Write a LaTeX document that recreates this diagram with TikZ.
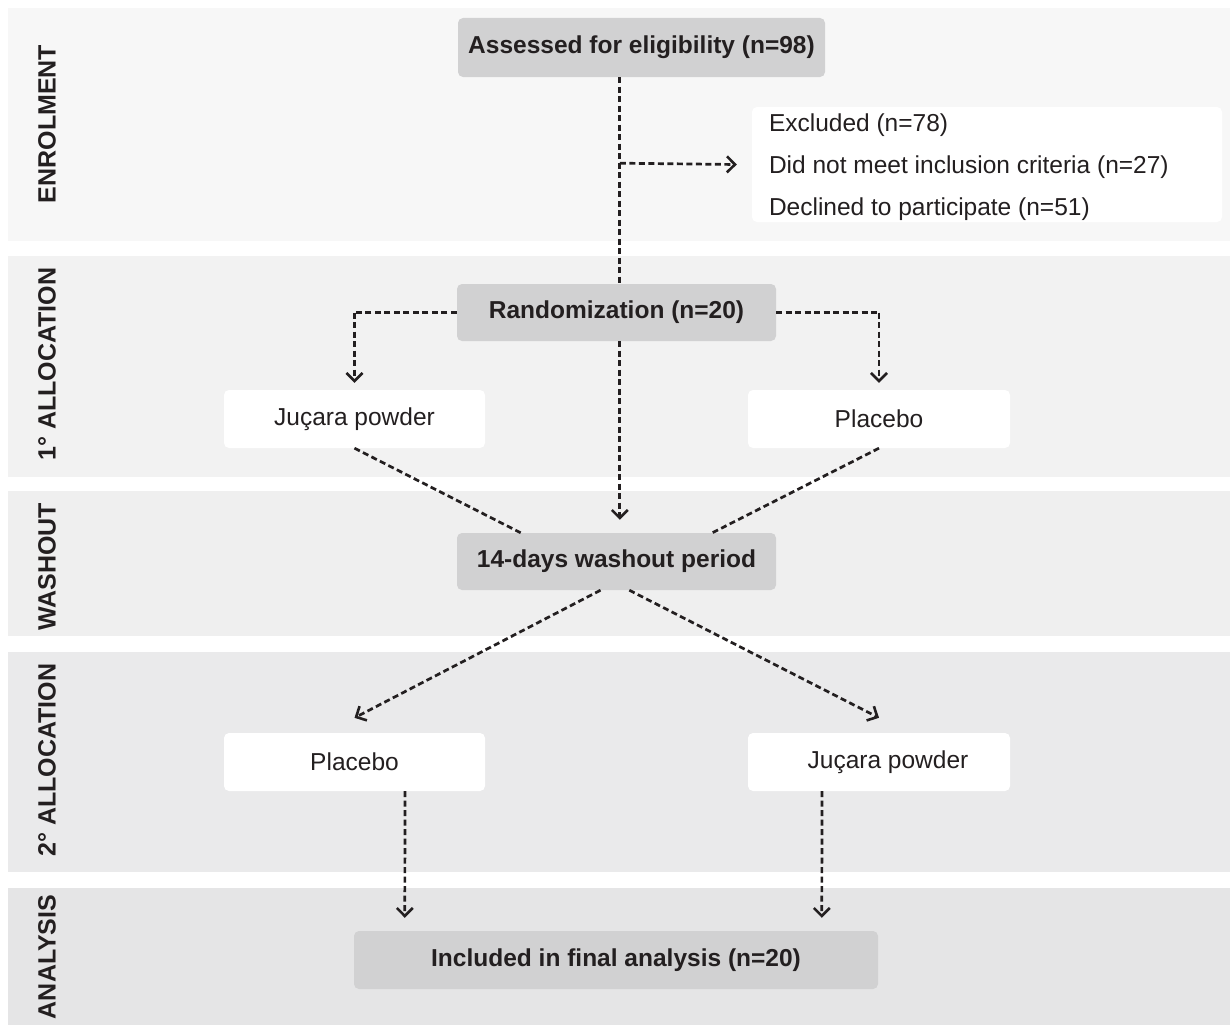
\documentclass[tikz,border=0pt]{standalone}
\usepackage{fontspec}
\setmainfont{Liberation Sans}
\usetikzlibrary{arrows.meta,calc}
\definecolor{bandA}{HTML}{F7F7F7}
\definecolor{bandB}{HTML}{F2F2F2}
\definecolor{bandC}{HTML}{EFEFEF}
\definecolor{bandD}{HTML}{EAEAEB}
\definecolor{bandE}{HTML}{E5E5E6}
\definecolor{nodegray}{HTML}{D1D1D2}
\definecolor{txt}{HTML}{231F20}
\newcommand{\fsz}{\fontsize{24.5}{42}\selectfont}
\begin{document}
\begin{tikzpicture}[x=1pt,y=-1pt,
  graybox/.style={fill=nodegray, rounded corners=5pt, minimum height=58pt, inner sep=0pt, font=\fsz\bfseries, text=txt},
  whitebox/.style={fill=white, rounded corners=5pt, minimum height=58pt, inner sep=0pt, font=\fsz, text=txt},
  band/.style={rotate=90, font=\fontsize{25}{29}\selectfont\bfseries, text=txt},
  conn/.style={draw=txt, line width=2.7pt, dash pattern=on 6pt off 3.5pt},
  arr/.style={conn, -{Straight Barb[length=8pt,width=16pt,line width=2.6pt]}}
]
\useasboundingbox (0,0) rectangle (1230,1025);
\fill[white] (0,0) rectangle (1230,1025);
% bands
\fill[bandA] (8,8) rectangle (1230,241);
\fill[bandB] (8,256) rectangle (1230,477);
\fill[bandC] (8,491) rectangle (1230,636);
\fill[bandD] (8,652) rectangle (1230,872);
\fill[bandE] (8,888) rectangle (1230,1025);
% band labels
\node[band] (lab1) at (47,124) {ENROLMENT};
\node[band] (lab2) at (47,364) {1° ALLOCATION};
\node[band] (lab3) at (47,567) {WASHOUT};
\node[band] (lab4) at (47,760) {2° ALLOCATION};
\node[band] (lab5) at (47,957) {ANALYSIS};
% nodes
\node[graybox, minimum width=367pt, minimum height=59pt] (assess) at (641.5,47.5) {Assessed for eligibility (n=98)};
\node[whitebox, minimum width=470pt, minimum height=115pt] (excl) at (987,164.5) {};
\node[font=\fsz, text=txt, align=left, anchor=west, inner sep=0pt] (excltext) at ($(excl.west)+(17,3)$)
  {Excluded (n=78)\\Did not meet inclusion criteria (n=27)\\Declined to participate (n=51)};
\node[graybox, minimum width=319pt, minimum height=57pt] (rand) at (616.5,312.5) {Randomization (n=20)};
\node[whitebox, minimum width=261pt] (jup1) at (354.5,419) {Juçara powder};
\node[whitebox, minimum width=262pt] (plac1) at (879,419) {Placebo};
\node[graybox, minimum width=319pt, minimum height=57pt] (wash) at (616.5,561.5) {14-days washout period};
\node[whitebox, minimum width=261pt] (plac2) at (354.5,762) {Placebo};
\node[whitebox, minimum width=262pt] (jup2) at (879,762) {\hspace*{18pt}Juçara powder};
\node[graybox, minimum width=524pt] (incl) at (616,960) {Included in final analysis (n=20)};
% helper coordinates
\coordinate (a1) at ($(assess.south west)+(162,0)$);
\coordinate (br) at ($(a1)+(0,86)$);
\coordinate (r0) at ($(rand.north west)+(163,0)$);
\coordinate (rb) at ($(rand.south west)+(163,0)$);
\coordinate (w0) at ($(wash.north west)+(163,-13)$);
\coordinate (lbend) at (jup1.north |- rand.west);
\coordinate (rbend) at (plac1.north |- rand.east);
% connectors
\draw[conn] (a1) -- (r0);
\draw[arr] (br) -- ($(excl.west)+(-15,0)$);
\draw[conn] (rand.west) -- (lbend);
\draw[arr] (lbend) -- ($(jup1.north)+(0,-7)$);
\draw[conn] (rand.east) -- (rbend);
\draw[arr] (rbend) -- ($(plac1.north)+(0,-7)$);
\draw[arr] (rb) -- (w0);
\draw[conn] (jup1.south) -- ($(wash.north west)!0.2!(wash.north east)$);
\draw[conn] (plac1.south) -- ($(wash.north west)!0.8!(wash.north east)$);
\draw[arr] ($(wash.south west)!0.45!(wash.south east)$) -- ($(plac2.north)+(0,-15)$);
\draw[arr] ($(wash.south west)!0.54!(wash.south east)$) -- ($(jup2.north)+(0,-15)$);
\draw[arr] ($(plac2.south)+(50.5,0)$) -- ($(incl.north west)+(51,-13)$);
\draw[arr] ($(jup2.south)+(-57,0)$) -- ($(incl.north west)+(468,-13)$);
\end{tikzpicture}
\end{document}
